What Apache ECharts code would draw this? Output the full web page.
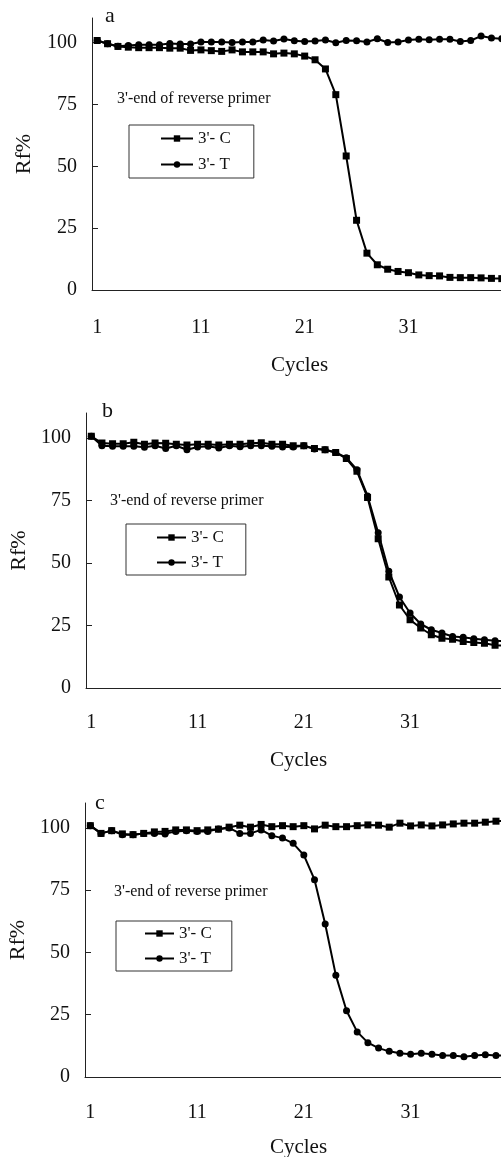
<!DOCTYPE html>
<html>
<head>
<meta charset="utf-8">
<script src="https://cdn.jsdelivr.net/npm/echarts@6/dist/echarts.min.js"></script>
<style>
  html, body { margin: 0; padding: 0; background: #fff; }
  #chart { width: 501px; height: 1157px; }
</style>
</head>
<body>
<div id="chart"></div>
<script>
const cycles = [1, 2, 3, 4, 5, 6, 7, 8, 9, 10, 11, 12, 13, 14, 15, 16, 17, 18, 19, 20,
  21, 22, 23, 24, 25, 26, 27, 28, 29, 30, 31, 32, 33, 34, 35, 36, 37, 38, 39, 40];
const yTicks = [0, 25, 50, 75, 100];
const nameC = "3'- C";
const nameT = "3'- T";
const note = "3'-end of reverse primer";

// panel a
const aC = [100.9, 99.6, 98.5, 98.2, 98.0, 98.0, 98.0, 97.8, 97.8, 96.9, 97.1, 96.8, 96.5, 97.1, 96.3, 96.3, 96.3, 95.5, 95.8, 95.5,
  94.6, 93.1, 89.4, 79.0, 54.2, 28.2, 14.9, 10.2, 8.4, 7.5, 7.0, 6.1, 5.8, 5.7, 5.1, 5.0, 5.0, 4.9, 4.7, 4.6];
const aT = [100.9, 99.6, 98.6, 98.9, 99.2, 99.2, 99.2, 99.7, 99.5, 99.5, 100.3, 100.3, 100.3, 100.1, 100.3, 100.3, 101.1, 100.7, 101.5, 100.8,
  100.5, 100.7, 101.1, 100.0, 100.9, 100.8, 100.3, 101.6, 100.1, 100.3, 101.1, 101.4, 101.2, 101.4, 101.4, 100.5, 100.9, 102.7, 101.9, 101.6];
// panel b
const bC = [100.7, 98.0, 97.7, 97.7, 98.3, 97.5, 98.0, 97.9, 97.5, 97.2, 97.5, 97.5, 97.2, 97.5, 97.5, 97.9, 98.1, 97.5, 97.5, 96.9,
  96.9, 95.8, 95.3, 94.2, 91.8, 86.7, 76.2, 59.7, 44.4, 33.2, 27.3, 24.0, 21.3, 19.9, 19.5, 18.6, 18.2, 17.9, 17.1, 17.0];
const bT = [100.7, 96.9, 96.7, 96.7, 96.7, 96.3, 96.9, 95.8, 96.9, 95.3, 96.4, 96.7, 96.0, 96.9, 96.5, 96.9, 96.9, 96.7, 96.4, 96.4,
  96.9, 95.6, 95.3, 94.2, 92.1, 87.3, 76.8, 62.1, 46.7, 36.4, 30.0, 25.6, 23.3, 22.0, 20.6, 20.3, 19.7, 19.3, 18.9, 18.8];
// panel c
const cC = [100.9, 97.8, 98.9, 97.6, 97.3, 97.8, 98.4, 98.6, 99.2, 99.2, 98.9, 99.2, 99.5, 100.3, 101.1, 100.3, 101.4, 100.5, 100.9, 100.5,
  100.9, 99.6, 101.1, 100.5, 100.5, 100.9, 101.2, 101.1, 100.3, 101.9, 100.8, 101.2, 100.8, 101.2, 101.6, 101.9, 101.9, 102.3, 102.7, 102.8];
const cT = [100.9, 97.8, 98.9, 97.3, 97.3, 97.8, 97.8, 97.6, 98.6, 98.9, 98.6, 98.6, 99.6, 100.0, 97.8, 97.8, 99.2, 96.9, 95.9, 93.8,
  89.1, 79.2, 61.4, 40.8, 26.6, 18.1, 13.8, 11.6, 10.3, 9.5, 9.1, 9.5, 9.1, 8.6, 8.6, 8.1, 8.6, 8.9, 8.6, 8.6];

const font = 'Liberation Serif';
const ink = '#111';

// layout of each panel (pixels)
const panels = [
  { tag: 'a', c: aC, t: aT, left: 92, top: 18, height: 272, width: 415, tagX: 111, tagY: 18,
    labGap: 28, nameGap: 65,
    noteX: 117, noteY: 100, leg: { left: 129, top: 125, pad: [5, 23, 5, 31], gap: 9, w: 32 } },
  { tag: 'b', c: bC, t: bT, left: 86, top: 413, height: 275, width: 425, tagX: 108, tagY: 413,
    labGap: 25, nameGap: 62,
    noteX: 110, noteY: 502, leg: { left: 126, top: 524, pad: [5, 22, 4, 30], gap: 8, w: 29 } },
  { tag: 'c', c: cC, t: cT, left: 85, top: 803, height: 274, width: 427, tagX: 101, tagY: 805,
    labGap: 26, nameGap: 60,
    noteX: 114, noteY: 893, leg: { left: 116, top: 921, pad: [4, 20, 4, 28], gap: 8, w: 29 } },
];

const grid = [];
const xAxis = [];
const yAxis = [];
const series = [];
const legend = [];
const graphic = [];

panels.forEach((p, i) => {
  grid.push({ left: p.left, top: p.top, width: p.width, height: p.height, outerBoundsMode: 'none' });
  xAxis.push({
    type: 'category',
    gridIndex: i,
    data: cycles,
    boundaryGap: true,
    name: 'Cycles',
    nameLocation: 'middle',
    nameGap: p.nameGap,
    nameTextStyle: { fontFamily: font, fontSize: 21, color: ink },
    axisLine: { lineStyle: { color: '#222', width: 1 } },
    axisTick: { inside: true, length: 6, interval: 4, lineStyle: { color: '#222' } },
    axisLabel: { interval: 9, margin: p.labGap, fontFamily: font, fontSize: 20, color: ink },
    splitLine: { show: false },
  });
  yAxis.push({
    type: 'value',
    gridIndex: i,
    min: 0,
    max: 110,
    name: 'Rf%',
    nameLocation: 'middle',
    nameGap: p.left - 35,
    nameTextStyle: { fontFamily: font, fontSize: 22, color: ink },
    axisLine: { show: true, lineStyle: { color: '#222', width: 1 } },
    axisTick: { show: true, inside: true, length: 6, customValues: yTicks, lineStyle: { color: '#222' } },
    axisLabel: { margin: 15, customValues: yTicks, fontFamily: font, fontSize: 20, color: ink },
    splitLine: { show: false },
  });
  series.push({
    name: nameC, type: 'line', xAxisIndex: i, yAxisIndex: i, data: p.c,
    symbol: 'rect', symbolSize: 7, showAllSymbol: true, color: '#000',
    lineStyle: { color: '#000', width: 2 }, itemStyle: { color: '#000' }, animation: false,
  });
  series.push({
    name: nameT, type: 'line', xAxisIndex: i, yAxisIndex: i, data: p.t,
    symbol: 'circle', symbolSize: 7, showAllSymbol: true, color: '#000',
    lineStyle: { color: '#000', width: 2 }, itemStyle: { color: '#000' }, animation: false,
  });
  legend.push({
    data: [nameC, nameT],
    orient: 'vertical',
    left: p.leg.left,
    top: p.leg.top,
    padding: p.leg.pad,
    itemGap: p.leg.gap,
    itemWidth: p.leg.w,
    itemHeight: 8,
    borderColor: '#333',
    borderWidth: 1,
    borderRadius: 0,
    selectedMode: false,
    textStyle: { fontFamily: font, fontSize: 17, lineHeight: 16, color: ink },
  });
  graphic.push({
    type: 'text', left: p.tagX - 6, top: p.tagY - 13,
    style: { text: p.tag, font: '22px "Liberation Serif"', fill: ink },
  });
  graphic.push({
    type: 'text', left: p.noteX, top: p.noteY - 9,
    style: { text: note, font: '16px "Liberation Serif"', fill: ink },
  });
});

const chart = echarts.init(document.getElementById('chart'));
chart.setOption({
  animation: false,
  backgroundColor: '#fff',
  grid,
  xAxis,
  yAxis,
  legend,
  graphic,
  series,
});
</script>
</body>
</html>
